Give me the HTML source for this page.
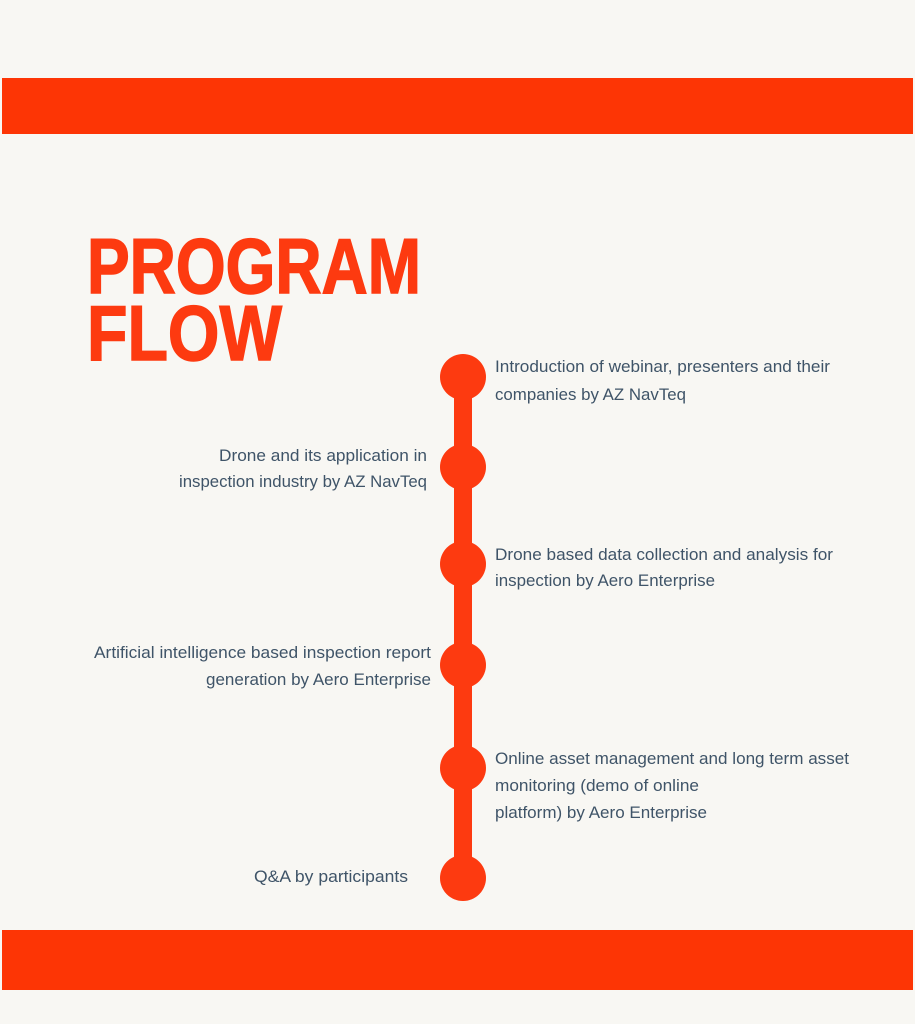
<!DOCTYPE html>
<html><head><meta charset="utf-8"><style>
html,body{margin:0;padding:0;background:#f8f7f3;}
svg{display:block}
</style></head><body>
<svg width="915" height="1024" viewBox="0 0 915 1024" xmlns="http://www.w3.org/2000/svg">
<rect width="915" height="1024" fill="#f8f7f3"/>
<rect x="2" y="78" width="911" height="56" fill="#fd3505"/>
<rect x="2" y="930" width="911" height="60" fill="#fd3505"/>
<g font-family="Liberation Sans, sans-serif" font-weight="bold" fill="#fd3a10" font-size="78" stroke="#fd3a10" stroke-width="1.5">
<text x="87" y="293" textLength="334" lengthAdjust="spacingAndGlyphs">PROGRAM</text>
<text x="87" y="360" textLength="195" lengthAdjust="spacingAndGlyphs">FLOW</text>
</g>
<rect x="454" y="377" width="18" height="501" fill="#fd3a10"/>
<g fill="#fd3a10">
<circle cx="463" cy="377" r="23"/>
<circle cx="463" cy="467" r="23"/>
<circle cx="463" cy="564" r="23"/>
<circle cx="463" cy="665" r="23"/>
<circle cx="463" cy="768" r="23"/>
<circle cx="463" cy="878" r="23"/>
</g>
<g font-family="Liberation Sans, sans-serif" font-size="16.5" fill="#3f5468">
<text x="495" y="372" textLength="335" lengthAdjust="spacingAndGlyphs">Introduction of webinar, presenters and their</text>
<text x="495" y="400" textLength="191" lengthAdjust="spacingAndGlyphs">companies by AZ NavTeq</text>
<text x="219" y="461" textLength="208" lengthAdjust="spacingAndGlyphs">Drone and its application in</text>
<text x="179" y="487" textLength="248" lengthAdjust="spacingAndGlyphs">inspection industry by AZ NavTeq</text>
<text x="495" y="560" textLength="338" lengthAdjust="spacingAndGlyphs">Drone based data collection and analysis for</text>
<text x="495" y="586" textLength="220" lengthAdjust="spacingAndGlyphs">inspection by Aero Enterprise</text>
<text x="94" y="658" textLength="337" lengthAdjust="spacingAndGlyphs">Artificial intelligence based inspection report</text>
<text x="206" y="685" textLength="225" lengthAdjust="spacingAndGlyphs">generation by Aero Enterprise</text>
<text x="495" y="764" textLength="354" lengthAdjust="spacingAndGlyphs">Online asset management and long term asset</text>
<text x="495" y="791" textLength="204" lengthAdjust="spacingAndGlyphs">monitoring (demo of online</text>
<text x="495" y="818" textLength="212" lengthAdjust="spacingAndGlyphs">platform) by Aero Enterprise</text>
<text x="254" y="882" textLength="154" lengthAdjust="spacingAndGlyphs">Q&amp;A by participants</text>
</g>
</svg>
</body></html>
